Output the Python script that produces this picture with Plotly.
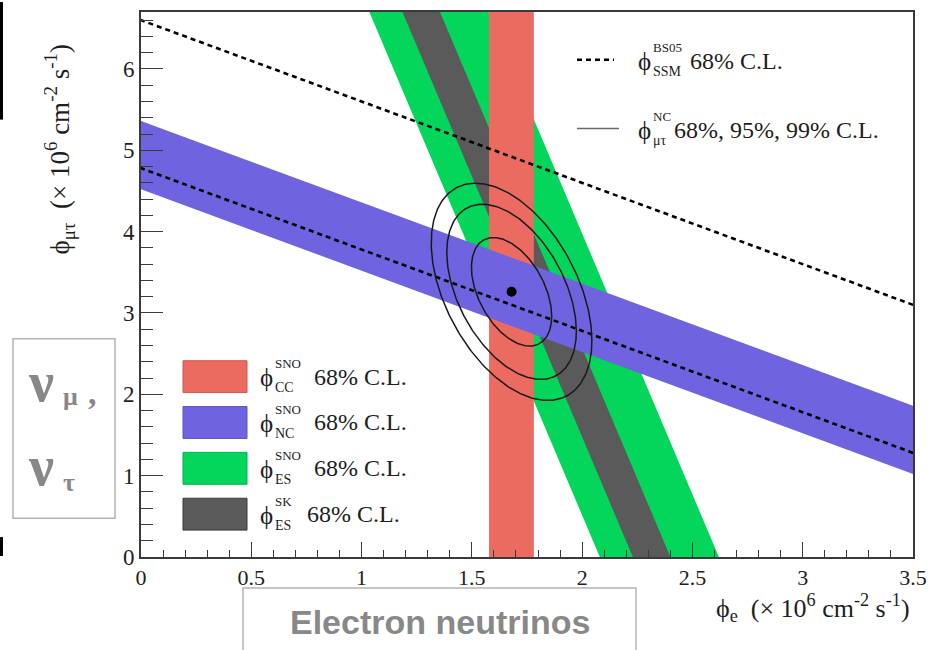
import numpy as np
import plotly.graph_objects as go

# ---------------------------------------------------------------------------
# Fluxes in units of 10^6 cm^-2 s^-1
# ---------------------------------------------------------------------------
X_RANGE = [0.0, 3.5]
Y_RANGE = [0.0, 6.7]

cc_band = [1.578, 1.781]       # SNO CC 68% C.L. (phi_e only)
nc_band = [4.52, 5.36]         # SNO NC 68% C.L. (phi_e + phi_mutau)
es_sno_band = [2.08, 2.62]     # SNO ES 68% C.L. (phi_e + w * phi_mutau)
es_sk_band = [2.23, 2.40]      # SK ES 68% C.L.
ssm_limits = [4.78, 6.60]      # BS05 SSM total flux, 68% C.L.
es_weight = 0.1559             # ES sensitivity to nu_mu,tau relative to nu_e

best_fit = [1.68, 3.26]        # (phi_e, phi_mutau)
sigma_e = 0.12
sigma_mt = 0.44
rho = -0.45
chi2_levels = [2.30, 5.99, 9.21]   # 68%, 95%, 99% C.L. (2 d.o.f.)

x_ticks = [0, 0.5, 1, 1.5, 2, 2.5, 3, 3.5]
x_tick_text = ["0", "0.5", "1", "1.5", "2", "2.5", "3", "3.5"]
y_ticks = [0, 1, 2, 3, 4, 5, 6]
y_tick_text = ["0", "1", "2", "3", "4", "5", "6"]

# colours
RED = "#ec6b60"
BLUE = "#7063df"
GREEN = "#03d65a"
GREY = "#5a5a5a"

PHI = "ϕ"

# ---------------------------------------------------------------------------
W, H = 938, 650
L, R, T, B = 141, 913, 10, 557   # plot-area edges in page pixels


def px(X):
    return (X - L) / (R - L)


def py(Y):
    return (B - Y) / (B - T)


fig = go.Figure()

FAR = [-2.0, 9.0]   # extend polygons past the axes; the plot area clips them


def sum_band(lo, hi, w=1.0):
    """Region lo <= phi_e + w*phi_mutau <= hi as a closed polygon."""
    ys = [FAR[0], FAR[1], FAR[1], FAR[0], FAR[0]]
    xs = [lo - w * FAR[0], lo - w * FAR[1], hi - w * FAR[1], hi - w * FAR[0], lo - w * FAR[0]]
    return xs, ys


def add_poly(xs, ys, color):
    fig.add_trace(go.Scatter(x=xs, y=ys, mode="lines", fill="toself",
                             fillcolor=color, line=dict(width=0, color=color),
                             hoverinfo="skip", showlegend=False))


# ES bands (SNO then SK on top)
add_poly(*sum_band(es_sno_band[0], es_sno_band[1], es_weight), GREEN)
add_poly(*sum_band(es_sk_band[0], es_sk_band[1], es_weight), GREY)
# CC band
add_poly([cc_band[0], cc_band[1], cc_band[1], cc_band[0], cc_band[0]],
         [FAR[0], FAR[0], FAR[1], FAR[1], FAR[0]], RED)
# NC band
add_poly(*sum_band(nc_band[0], nc_band[1], 1.0), BLUE)

# SSM prediction lines
for s in ssm_limits:
    fig.add_trace(go.Scatter(x=[-1.0, 5.0], y=[s + 1.0, s - 5.0], mode="lines",
                             line=dict(color="black", width=2.6, dash="5px,4px"),
                             hoverinfo="skip", showlegend=False))

# NC-derived phi_mutau contours
t = np.linspace(0, 2 * np.pi, 361)
for c2 in chi2_levels:
    k = np.sqrt(c2)
    ex = best_fit[0] + k * sigma_e * np.cos(t)
    ey = best_fit[1] + k * sigma_mt * (rho * np.cos(t) + np.sqrt(1 - rho ** 2) * np.sin(t))
    fig.add_trace(go.Scatter(x=ex, y=ey, mode="lines",
                             line=dict(color="#1a1a1a", width=1.5),
                             hoverinfo="skip", showlegend=False))

fig.add_trace(go.Scatter(x=[best_fit[0]], y=[best_fit[1]], mode="markers",
                         marker=dict(color="black", size=10),
                         hoverinfo="skip", showlegend=False))

SERIF = "Liberation Serif"
TXT = "#1e1e1e"

annotations = []
shapes = []


def ann(X, Y, text, size=23, xanchor="left", yanchor="middle", color=TXT,
        family=SERIF, angle=0):
    annotations.append(dict(x=px(X), y=py(Y), xref="paper", yref="paper",
                            text=text, showarrow=False, xanchor=xanchor,
                            yanchor=yanchor, textangle=angle,
                            font=dict(family=family, size=size, color=color)))


def phi_label(X, Y, sup, sub, rest, rest_x):
    ann(X, Y + 1, PHI, size=25, xanchor="left")
    ann(X + 15, Y - 13, sup, size=13, xanchor="left")
    ann(X + 15, Y + 11, sub, size=14, xanchor="left")
    ann(rest_x, Y, rest, size=24, xanchor="left")


# top-right legend
shapes.append(dict(type="line", xref="paper", yref="paper",
                   x0=px(577), x1=px(614), y0=py(58), y1=py(58),
                   line=dict(color="black", width=2.4, dash="5px,4px")))
phi_label(636, 59, "BS05", "SSM", "68% C.L.", 688)
shapes.append(dict(type="line", xref="paper", yref="paper",
                   x0=px(577), x1=px(619), y0=py(127), y1=py(127),
                   line=dict(color="#6a6a6a", width=1.4)))
phi_label(636, 128, "NC", "μτ", "68%, 95%, 99% C.L.", 672)

# bottom-left legend
legend_rows = [("SNO", "CC", RED, "#c85a52"),
               ("SNO", "NC", BLUE, "#5d52c0"),
               ("SNO", "ES", GREEN, "#05b04c"),
               ("SK", "ES", GREY, "#3a3a3a")]
for i, (sup, sub, fc, lc) in enumerate(legend_rows):
    yc = 376 + 46 * i
    shapes.append(dict(type="rect", xref="paper", yref="paper",
                       x0=px(183), x1=px(247), y0=py(yc - 16), y1=py(yc + 16),
                       fillcolor=fc, line=dict(color=lc, width=1)))
    phi_label(258, yc, sup, sub, "68% C.L.", 312 if sup == "SNO" else 305)

# axis titles
ann(60, 148, PHI + "<sub>μτ</sub>  (× 10<sup>6</sup> cm<sup>-2</sup> s<sup>-1</sup>)",
    size=27, xanchor="center", angle=-90)
ann(912, 608, PHI + "<sub>e</sub>  (× 10<sup>6</sup> cm<sup>-2</sup> s<sup>-1</sup>)",
    size=26, xanchor="right")

# flavour boxes
BOXGREY = "#b4b4b4"
LABELGREY = "#888888"
shapes.append(dict(type="rect", xref="paper", yref="paper",
                   x0=px(243), x1=px(636), y0=py(588), y1=py(652),
                   line=dict(color=BOXGREY, width=1.5), fillcolor="white"))
ann(440, 622, "<b>Electron neutrinos</b>", size=34, xanchor="center",
    color=LABELGREY, family="Liberation Sans")

shapes.append(dict(type="rect", xref="paper", yref="paper",
                   x0=px(13), x1=px(115), y0=py(338), y1=py(518),
                   line=dict(color=BOXGREY, width=1.5), fillcolor="white"))
ann(26, 381, "<b>ν</b>", size=56, xanchor="left", color=LABELGREY)
ann(61, 396, "<b>μ</b>", size=26, xanchor="left", color=LABELGREY)
ann(86, 392, "<b>,</b>", size=34, xanchor="left", color=LABELGREY)
ann(26, 466, "<b>ν</b>", size=56, xanchor="left", color=LABELGREY)
ann(61, 482, "<b>τ</b>", size=26, xanchor="left", color=LABELGREY)

# dark edge strokes at the page border
shapes.append(dict(type="rect", xref="paper", yref="paper",
                   x0=px(0), x1=px(3), y0=py(0), y1=py(118),
                   fillcolor="black", line=dict(width=0)))
shapes.append(dict(type="rect", xref="paper", yref="paper",
                   x0=px(0), x1=px(3), y0=py(537), y1=py(556),
                   fillcolor="black", line=dict(width=0)))

AX = "#3a3a3a"
fig.update_layout(
    width=W, height=H,
    margin=dict(l=L, r=W - R, t=T, b=H - B),
    paper_bgcolor="white", plot_bgcolor="white",
    showlegend=False,
    annotations=annotations, shapes=shapes,
    xaxis=dict(range=X_RANGE, tickvals=x_ticks, ticktext=x_tick_text,
               ticks="inside", ticklen=15, tickwidth=1.4, tickcolor=AX,
               minor=dict(dtick=0.1, ticks="inside", ticklen=7, tickwidth=1.2,
                          tickcolor=AX, showgrid=False),
               showline=True, linecolor=AX, linewidth=1.6, mirror=True,
               showgrid=False, zeroline=False,
               tickfont=dict(family=SERIF, size=22, color=TXT)),
    yaxis=dict(range=Y_RANGE, tickvals=y_ticks, ticktext=y_tick_text,
               ticks="inside", ticklen=22, tickwidth=1.4, tickcolor=AX,
               minor=dict(dtick=0.2, ticks="inside", ticklen=12, tickwidth=1.2,
                          tickcolor=AX, showgrid=False),
               showline=True, linecolor=AX, linewidth=1.6, mirror=True,
               showgrid=False, zeroline=False,
               tickfont=dict(family=SERIF, size=23, color=TXT)),
)

fig.write_html("out.html")
